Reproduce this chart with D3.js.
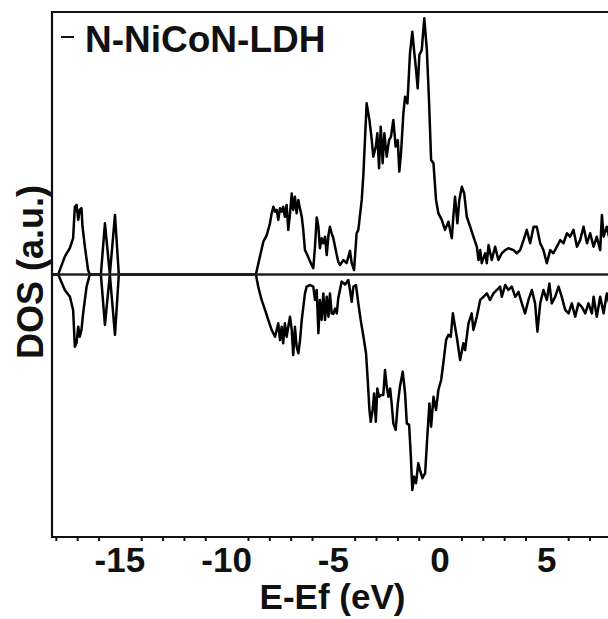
<!DOCTYPE html>
<html>
<head>
<meta charset="utf-8">
<script src="https://cdn.jsdelivr.net/npm/d3@7"></script>
<style>
  html, body { margin: 0; padding: 0; background: #fff; }
  svg { display: block; }
  text { font-family: "Liberation Sans", Arial, sans-serif; font-weight: bold; fill: #111; }
</style>
</head>
<body>
<script>
// Spin-resolved density of states of N-NiCoN-LDH (energy in eV relative to Ef)
const seriesName = "N-NiCoN-LDH";
const xTickValues = [-15, -10, -5, 0, 5];
const xTitle = "E-Ef (eV)";
const yTitle = "DOS (a.u.)";

// spin-up channel: [E - Ef, DOS]
const spinUp = [
  [-18.18,0],[-17.89,0],[-17.58,0.68],[-17.34,1.01],[-17.19,1.39],[-17.11,2.58],[-17.03,2.65],
  [-16.95,2.08],[-16.88,2.46],[-16.80,2.53],[-16.75,1.82],[-16.64,1.06],[-16.49,0.17],[-16.41,0],
  [-15.89,0],[-15.70,1.95],[-15.47,0],[-15.23,2.27],[-15.05,0],
  [-8.63,0],[-8.44,0.68],[-8.28,1.25],[-8.12,1.50],[-7.97,1.95],[-7.89,2.33],[-7.81,2.58],
  [-7.73,2.39],[-7.65,2.46],[-7.58,2.08],[-7.50,2.52],[-7.42,2.39],[-7.35,2.58],[-7.27,2.20],
  [-7.19,2.65],[-7.11,1.70],[-7.03,2.33],[-6.95,3.09],[-6.88,2.46],[-6.80,2.96],[-6.72,2.33],
  [-6.64,2.84],[-6.56,2.50],[-6.48,2.20],[-6.41,1.70],[-6.33,0.93],[-6.25,0.80],[-6.09,0.49],
  [-5.94,0.24],[-5.86,1.06],[-5.78,2.17],[-5.70,1.82],[-5.63,1.00],[-5.55,1.38],[-5.47,1.19],
  [-5.39,1.44],[-5.31,0.74],[-5.23,1.50],[-5.16,1.82],[-5.08,1.57],[-5.00,1.38],[-4.92,1.06],
  [-4.84,0.74],[-4.77,0.49],[-4.69,0.36],[-4.53,0.55],[-4.38,0.43],[-4.22,0.90],[-4.14,0.43],
  [-4.03,0.17],[-3.91,1.57],[-3.83,1.70],[-3.67,2.84],[-3.59,3.86],[-3.52,5.12],[-3.44,6.52],
  [-3.31,5.89],[-3.20,5.12],[-3.13,4.49],[-3.01,4.87],[-2.94,5.38],[-2.86,4.05],[-2.78,5.63],
  [-2.69,4.24],[-2.61,5.38],[-2.50,4.49],[-2.39,5.12],[-2.30,5.25],[-2.19,5.89],[-2.08,4.87],
  [-1.98,5.12],[-1.91,3.92],[-1.83,4.62],[-1.72,6.14],[-1.64,6.77],[-1.53,6.52],[-1.41,8.43],
  [-1.30,9.25],[-1.22,8.55],[-1.14,7.92],[-1.05,7.09],[-0.97,8.36],[-0.86,8.55],[-0.74,9.76],
  [-0.62,8.55],[-0.52,6.65],[-0.42,4.36],[-0.31,4.24],[-0.19,2.84],[-0.08,2.33],[0.08,2.08],
  [0.23,1.70],[0.39,2.01],[0.55,1.38],[0.62,2.20],[0.70,2.96],[0.81,1.95],[0.90,2.84],
  [1.02,3.34],[1.13,3.09],[1.25,2.20],[1.41,1.82],[1.56,1.44],[1.72,1.06],[1.80,0.55],
  [1.88,0.93],[1.95,0.43],[2.11,0.81],[2.19,0.43],[2.27,1.12],[2.42,0.55],[2.58,1.06],
  [2.73,0.55],[2.89,0.81],[3.05,0.93],[3.20,1.00],[3.44,0.93],[3.59,0.81],[3.75,0.93],
  [3.91,1.31],[4.06,1.70],[4.22,1.19],[4.38,1.82],[4.53,1.82],[4.69,1.19],[4.84,0.93],
  [5.00,0.43],[5.16,0.93],[5.31,0.81],[5.47,1.06],[5.63,1.31],[5.78,1.19],[5.94,1.57],
  [6.09,1.44],[6.25,1.70],[6.41,1.06],[6.56,1.31],[6.72,1.82],[6.88,1.19],[7.03,1.57],
  [7.19,1.06],[7.34,1.44],[7.50,0.93],[7.58,2.27],[7.66,1.44],[7.81,1.82],[7.95,1.30],[8.10,1.60]
];

// spin-down channel: [E - Ef, DOS]
const spinDown = [
  [-18.18,0],[-17.89,0],[-17.58,-0.59],[-17.34,-0.85],[-17.19,-1.35],[-17.11,-2.75],[-17.03,-2.61],
  [-16.95,-1.99],[-16.88,-2.37],[-16.80,-2.11],[-16.72,-1.47],[-16.56,-0.46],[-16.41,0],
  [-15.89,0],[-15.70,-1.92],[-15.47,0],[-15.23,-2.30],[-15.05,0],
  [-8.63,0],[-8.52,-0.46],[-8.36,-0.97],[-8.20,-1.35],[-8.05,-1.73],[-7.89,-2.11],[-7.73,-2.37],
  [-7.58,-1.86],[-7.50,-2.50],[-7.42,-1.99],[-7.35,-2.62],[-7.27,-1.86],[-7.19,-2.37],[-7.03,-1.61],
  [-6.95,-2.11],[-6.88,-3.07],[-6.80,-1.99],[-6.72,-2.75],[-6.64,-3.00],[-6.56,-2.50],[-6.48,-1.73],
  [-6.33,-0.72],[-6.25,-0.46],[-6.09,-0.40],[-5.94,-0.46],[-5.86,-0.97],[-5.78,-0.59],[-5.70,-2.24],
  [-5.63,-0.97],[-5.55,-1.73],[-5.47,-0.72],[-5.39,-1.73],[-5.31,-0.85],[-5.23,-1.61],[-5.16,-0.72],
  [-5.08,-1.48],[-5.00,-1.50],[-4.92,-1.30],[-4.84,-1.48],[-4.77,-0.90],[-4.61,-0.27],[-4.45,-0.38],
  [-4.30,-0.21],[-4.22,-0.59],[-4.14,-1.04],[-4.06,-0.46],[-3.94,-0.40],[-3.83,-1.10],[-3.72,-1.73],
  [-3.59,-2.37],[-3.47,-3.00],[-3.39,-4.02],[-3.31,-5.16],[-3.25,-5.61],[-3.16,-5.16],[-3.09,-4.53],
  [-3.01,-5.61],[-2.94,-4.34],[-2.86,-4.66],[-2.78,-4.59],[-2.66,-4.59],[-2.58,-3.64],[-2.50,-4.27],
  [-2.42,-4.66],[-2.34,-4.34],[-2.27,-4.91],[-2.19,-5.67],[-2.08,-5.92],[-1.98,-4.91],[-1.88,-4.27],
  [-1.75,-3.70],[-1.64,-4.53],[-1.56,-5.67],[-1.45,-5.73],[-1.37,-6.94],[-1.30,-8.21],[-1.22,-7.70],
  [-1.13,-7.95],[-1.02,-7.19],[-0.94,-7.45],[-0.83,-7.76],[-0.70,-7.57],[-0.60,-6.18],[-0.50,-4.91],
  [-0.42,-5.80],[-0.31,-4.66],[-0.19,-5.16],[-0.08,-4.40],[0.05,-4.02],[0.15,-3.38],[0.28,-2.50],
  [0.39,-2.30],[0.50,-2.37],[0.60,-1.48],[0.70,-1.99],[0.78,-2.37],[0.94,-3.26],[1.09,-2.62],
  [1.17,-2.88],[1.33,-1.86],[1.48,-1.48],[1.56,-2.11],[1.72,-1.61],[1.88,-0.97],[2.03,-0.85],
  [2.19,-0.72],[2.34,-0.97],[2.50,-0.72],[2.66,-0.59],[2.81,-0.46],[2.89,-0.85],[3.05,-0.40],
  [3.20,-0.59],[3.36,-0.46],[3.52,-0.85],[3.67,-0.66],[3.83,-1.10],[3.98,-1.48],[4.14,-0.97],
  [4.30,-0.59],[4.45,-1.10],[4.56,-2.18],[4.69,-1.10],[4.84,-0.59],[5.00,-0.97],[5.12,-0.34],
  [5.23,-1.10],[5.39,-0.85],[5.55,-0.46],[5.70,-0.85],[5.86,-1.35],[6.02,-1.48],[6.17,-1.10],
  [6.33,-1.61],[6.48,-1.10],[6.64,-1.23],[6.80,-1.48],[6.95,-1.10],[7.11,-1.48],[7.19,-0.85],
  [7.34,-1.61],[7.50,-0.85],[7.66,-1.48],[7.81,-0.72],[7.95,-1.20],[8.10,-0.90]
];

const W = 608, H = 619;
const plot = { left: 52, right: 613, top: 12, bottom: 537 };

const svg = d3.select("body").append("svg")
  .attr("width", W).attr("height", H);

const x = d3.scaleLinear().domain([-18.18, 8.1]).range([plot.left, plot.right]);
const y = d3.scaleLinear().domain([-10, 10]).range([plot.bottom, plot.top]);

// curves
const line = d3.line().x(d => x(d[0])).y(d => y(d[1]));
const g = svg.append("g");
[spinDown, spinUp].forEach(s => {
  g.append("path").datum(s)
    .attr("d", line)
    .attr("fill", "none")
    .attr("stroke", "#000")
    .attr("stroke-width", 2.5)
    .attr("stroke-linejoin", "round");
});
// zero baseline
g.append("line")
  .attr("x1", x(-18.18)).attr("x2", x(8.1))
  .attr("y1", y(0)).attr("y2", y(0))
  .attr("stroke", "#222").attr("stroke-width", 2.6);

// frame: left, top, bottom
svg.append("path")
  .attr("d", `M${plot.right + 5},${plot.top}H${plot.left}V${plot.bottom}H${plot.right + 5}`)
  .attr("fill", "none").attr("stroke", "#111").attr("stroke-width", 2.2);

// x axis: minor ticks every 1 eV, labels at multiples of 5
const minor = d3.range(-18, 9).filter(v => v % 5 !== 0);
const xAxis = d3.axisBottom(x).tickValues(minor).tickSize(4).tickFormat("");
const ax = svg.append("g").attr("transform", `translate(0,${plot.bottom})`).call(xAxis);
ax.select(".domain").remove();
ax.selectAll(".tick line").attr("stroke", "#111").attr("stroke-width", 2);

svg.append("g").selectAll("text")
  .data(xTickValues).join("text")
  .attr("x", d => x(d)).attr("y", 572)
  .attr("text-anchor", "middle")
  .attr("font-size", 35)
  .text(d => d);

// axis titles
svg.append("text")
  .attr("x", (plot.left + plot.right) / 2).attr("y", 609)
  .attr("text-anchor", "middle").attr("font-size", 35)
  .text(xTitle);

svg.append("text")
  .attr("transform", `translate(43,272) rotate(-90)`)
  .attr("text-anchor", "middle").attr("font-size", 36)
  .text(yTitle);

// legend
svg.append("line")
  .attr("x1", 61).attr("x2", 74).attr("y1", 37).attr("y2", 37)
  .attr("stroke", "#111").attr("stroke-width", 2);
svg.append("text")
  .attr("x", 85).attr("y", 52)
  .attr("font-size", 37)
  .text(seriesName);
</script>
</body>
</html>
